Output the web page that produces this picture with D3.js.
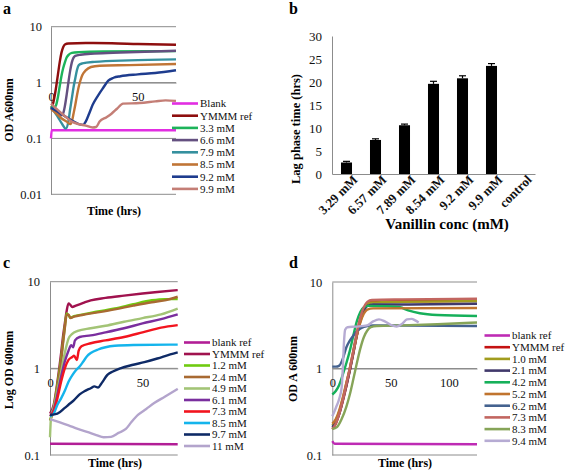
<!DOCTYPE html>
<html><head><meta charset="utf-8">
<script src="https://cdn.jsdelivr.net/npm/d3@7"></script>
<style>
html,body{margin:0;padding:0;background:#fff;}
svg{display:block;}
svg text{font-family:'Liberation Serif','Times New Roman','DejaVu Serif',serif;}
</style></head>
<body>
<svg id="chart" width="566" height="471"></svg>
<script>
// ---------- Panel a data (time hrs, OD) ----------
const aNames = ["Blank","YMMM ref","3.3 mM","6.6 mM","7.9 mM","8.5 mM","9.2 mM","9.9 mM"];
const aColors = ["#E22EE2","#8E0E0E","#1DB35A","#645080","#35909E","#C07536","#1E3C8E","#C47E76"];
const aBlank = [[0,0.1],[0.4,0.14],[72,0.14]];
const aYmmm = [[0,0.35],[1,0.4],[2,0.55],[3,0.85],[4,1.4],[5,2.3],[6,3.4],[7,4.3],[8,4.8],[10,5.0],[20,5.1],[35,5.05],[50,4.9],[72,4.75]];
const a33 = [[0,0.38],[2,0.36],[3,0.4],[4,0.55],[5,0.85],[6,1.3],[7,1.8],[8,2.3],[9,2.8],[10,3.1],[12,3.4],[16,3.5],[30,3.6],[72,3.65]];
const a66 = [[0,0.35],[2,0.32],[4,0.28],[6,0.26],[7,0.28],[8,0.38],[9,0.6],[10,1.0],[11,1.6],[12,2.3],[13,2.8],[14,3.0],[17,3.15],[25,3.3],[40,3.45],[72,3.7]];
const a79 = [[0,0.36],[2,0.3],[4,0.24],[6,0.19],[8.5,0.15],[10,0.2],[11,0.33],[12,0.52],[13,0.83],[14,1.2],[15,1.7],[16,2.05],[18,2.2],[25,2.35],[45,2.5],[72,2.6]];
const a85 = [[0,0.34],[3,0.28],[6,0.23],[9,0.2],[11,0.18],[12,0.2],[13,0.28],[14,0.4],[15,0.6],[16,0.85],[17,1.1],[18,1.35],[20,1.65],[23,1.9],[28,2.0],[45,2.05],[72,2.15]];
const a92 = [[0,0.35],[4,0.3],[8,0.25],[12,0.21],[16,0.18],[18.5,0.175],[20,0.2],[22,0.28],[24,0.4],[27,0.58],[30,0.8],[33,1.08],[36,1.22],[40,1.3],[50,1.4],[60,1.48],[72,1.66]];
const a99 = [[0,0.42],[4,0.32],[8,0.25],[12,0.2],[16,0.18],[20,0.17],[24,0.157],[26,0.16],[28,0.2],[32,0.24],[35,0.28],[38,0.34],[41.5,0.42],[51,0.43],[60,0.46],[66,0.48],[72,0.47]];
const aSeries = [aBlank,aYmmm,a33,a66,a79,a85,a92,a99];
const aYTicks = [0.01,0.1,1,10];
const aXTicks = [0,50];

// ---------- Panel b data ----------
const bCategories = ["3.29 mM","6.57 mM","7.89 mM","8.54 mM","9.2 mM","9.9 mM","control"];
const bLag = [2.5,7.4,10.6,19.6,20.8,23.5,0];
const bErr = [0.25,0.25,0.25,0.55,0.55,0.5,0];
const bYTicks = [0,5,10,15,20,25,30];

// ---------- Panel c data ----------
const cNames = ["blank ref","YMMM ref","1.2 mM","2.4 mM","4.9 mM","6.1 mM","7.3 mM","8.5 mM","9.7 mM","11 mM"];
const cColors = ["#B21E96","#A0124E","#6FCB10","#A86A32","#A3C476","#7A2E9E","#F2141E","#14B4EC","#0E2A66","#B3A4CC"];
const cBlank = [[0,0.135],[69,0.133]];
const cYmmm = [[0,0.3],[2,0.38],[4,0.7],[6,1.5],[7,2.3],[8,3.3],[9,4.6],[10,5.6],[11,5.4],[12,5.1],[14,5.3],[18,5.7],[22,6.1],[30,6.5],[40,6.9],[50,7.3],[58,7.6],[69,8.0]];
const c12 = [[0,0.25],[2,0.35],[4,0.65],[6,1.3],[7,2.0],[8,3.0],[9,4.3],[10,4.1],[11,3.85],[13,4.0],[18,4.2],[25,4.5],[35,4.9],[45,5.5],[55,6.1],[62,6.3],[69,6.3]];
const c24 = [[0,0.25],[2,0.33],[4,0.6],[6,1.2],[7,1.9],[8,2.9],[9,4.1],[10,4.2],[11,3.8],[13,3.95],[18,4.15],[25,4.4],[35,4.8],[45,5.3],[55,5.8],[62,6.1],[69,6.7]];
const c49 = [[0,0.16],[0.6,0.28],[2,0.35],[4,0.55],[6,0.9],[8,1.5],[10,2.2],[12,2.5],[15,2.7],[22,2.9],[30,3.1],[40,3.45],[50,3.8],[60,4.2],[69,4.9]];
const c61 = [[0,0.28],[2,0.33],[4,0.5],[6,0.8],[8,1.2],[10,1.6],[11.5,1.85],[12.5,1.75],[13.5,2.1],[16,2.3],[22,2.4],[30,2.6],[40,2.9],[50,3.3],[60,3.7],[69,4.2]];
const c73 = [[0,0.28],[2,0.32],[4,0.45],[6,0.7],[8,1.0],[10,1.25],[12,1.35],[13,1.4],[14.5,1.25],[15.5,1.6],[17,1.8],[22,1.95],[30,2.1],[40,2.3],[50,2.6],[60,2.95],[69,3.15]];
const c85 = [[0,0.28],[2,0.3],[4,0.38],[6,0.45],[8,0.55],[10,0.7],[12,0.83],[14,0.95],[16,1.05],[18,1.2],[20,1.38],[22,1.5],[26,1.65],[30,1.75],[35,1.82],[45,1.86],[69,1.88]];
const c97 = [[0,0.29],[4,0.3],[8,0.35],[10,0.38],[13,0.43],[16,0.5],[19,0.55],[22,0.59],[24,0.62],[26,0.6],[28,0.68],[31,0.84],[34,0.92],[38,1.0],[45,1.1],[51,1.18],[58,1.3],[65,1.45],[69,1.53]];
const c110 = [[0,0.26],[5,0.24],[10,0.22],[15,0.2],[20,0.185],[25,0.17],[29,0.16],[33,0.162],[37,0.18],[41,0.2],[44,0.24],[47.5,0.29],[52,0.34],[56.5,0.4],[62,0.47],[69,0.58]];
const cSeries = [cBlank,cYmmm,c12,c24,c49,c61,c73,c85,c97,c110];
const cYTicks = [0.1,1,10];
const cXTicks = [0,50];

// ---------- Panel d data ----------
const dNames = ["blank ref","YMMM ref","1.0 mM","2.1 mM","4.2 mM","5.2 mM","6.2 mM","7.3 mM","8.3 mM","9.4 mM"];
const dColors = ["#BE2BB4","#C41212","#A19C1E","#41396B","#16B05A","#C0742E","#44628F","#C26660","#86A458","#B6ABD3"];
const dBlank = [[0,0.145],[2,0.135],[124,0.133]];
const dYmmm = [[0,0.2],[3,0.23],[6,0.3],[9,0.42],[12,0.62],[15,0.95],[18,1.5],[21,2.4],[24,3.6],[27,4.9],[30,5.7],[33,5.9],[50,6.0],[80,6.0],[124,6.1]];
const d10 = [[0,0.22],[3,0.25],[6,0.32],[9,0.45],[12,0.67],[15,1.0],[18,1.6],[21,2.5],[24,3.7],[27,4.9],[30,5.6],[34,5.8],[60,5.9],[124,6.0]];
const d21 = [[0,0.21],[3,0.24],[6,0.3],[9,0.43],[12,0.63],[15,0.95],[18,1.5],[21,2.4],[24,3.5],[27,4.6],[30,5.3],[35,5.5],[60,5.5],[124,5.6]];
const d42 = [[0,0.5],[3,0.55],[6,0.65],[9,0.85],[12,1.15],[15,1.6],[18,2.4],[21,3.5],[24,4.5],[27,5.1],[31,5.3],[45,5.25],[58,5.1],[65,4.7],[75,4.35],[90,4.15],[124,4.05]];
const d52 = [[0,0.23],[3,0.26],[6,0.33],[9,0.46],[12,0.68],[15,1.0],[18,1.55],[21,2.4],[24,3.4],[27,4.3],[30,4.8],[35,4.95],[124,5.0]];
const d62 = [[0,1.05],[3,1.05],[6,1.08],[9,1.3],[12,1.75],[15,2.1],[18,2.4],[21,2.7],[25,2.95],[30,3.1],[35,3.15],[124,3.1]];
const d73 = [[0,0.2],[3,0.23],[6,0.3],[9,0.43],[12,0.65],[15,1.0],[18,1.6],[21,2.6],[24,3.9],[27,5.1],[30,5.9],[34,6.2],[60,6.3],[124,6.4]];
const d83 = [[0,0.2],[4,0.21],[8,0.26],[12,0.36],[15,0.5],[18,0.75],[21,1.15],[24,1.7],[27,2.3],[30,2.75],[33,3.0],[38,3.1],[60,3.15],[90,3.25],[124,3.4]];
const d94 = [[0,0.28],[3,0.35],[6,0.45],[8,0.6],[9,1.0],[10,2.0],[11,2.8],[13,3.0],[20,3.05],[30,3.15],[35,3.5],[40,3.7],[45,3.5],[50,3.2],[55,3.05],[60,3.3],[64,3.7],[68,3.75],[71,3.6],[74,3.4]];
const dSeries = [dBlank,dYmmm,d10,d21,d42,d52,d62,d73,d83,d94];
const dYTicks = [0.1,1,10];
const dXTicks = [0,50,100];

// ---------- drawing ----------
const FONT = "'Liberation Serif','Times New Roman','DejaVu Serif',serif";
const GRID = "#8c8c8c";
const svg = d3.select("#chart");

function logPanel(o){
  const g = svg.append("g");
  const x = d3.scaleLinear().domain(o.xDomain).range(o.xRange);
  const y = d3.scaleLog().domain(o.yDomain).range(o.yRange);
  g.selectAll("line.grid").data(o.yTicks).join("line")
    .attr("x1", o.xRange[0]).attr("x2", o.xRange[1])
    .attr("y1", d => y(d)).attr("y2", d => y(d))
    .attr("stroke", GRID).attr("stroke-width", 1);
  const ya = g.append("g").attr("transform", `translate(${o.xRange[0]},0)`)
    .call(d3.axisLeft(y).tickValues(o.yTicks).tickFormat(d => String(d)).tickSize(0).tickPadding(o.yPad));
  ya.select(".domain").attr("stroke", GRID);
  ya.selectAll("text").attr("font-size", o.tickSize).attr("fill", "#111");
  const xa = g.append("g").attr("transform", `translate(0,${y(1)})`)
    .call(d3.axisBottom(x).tickValues(o.xTicks).tickSize(0).tickPadding(o.xPad));
  xa.select(".domain").attr("stroke", GRID);
  xa.selectAll("text").attr("font-size", o.tickSize).attr("fill", "#111");
  const line = d3.line().x(d => x(d[0])).y(d => y(d[1])).curve(d3.curveMonotoneX);
  g.selectAll("path.series").data(o.series).join("path")
    .attr("d", line).attr("fill", "none")
    .attr("stroke", (d,i) => o.colors[i]).attr("stroke-width", 2.4)
    .attr("stroke-linejoin", "round");
  const lg = g.append("g");
  o.names.forEach((n,i) => {
    const yy = o.legY0 + i*o.legDy;
    lg.append("line").attr("x1", o.legX1).attr("x2", o.legX2).attr("y1", yy).attr("y2", yy)
      .attr("stroke", o.colors[i]).attr("stroke-width", 2.6);
    lg.append("text").attr("x", o.legX2 + 2).attr("y", yy).attr("dy", "0.35em")
      .attr("font-size", 11).attr("fill", "#111").text(n);
  });
  g.append("text").attr("transform", `translate(${o.yTitleX},${o.yTitleY}) rotate(-90)`)
    .attr("text-anchor", "middle").attr("font-weight", "bold").attr("font-size", 12).text(o.yTitle);
  g.append("text").attr("x", o.xTitleX).attr("y", o.xTitleY)
    .attr("text-anchor", "middle").attr("font-weight", "bold").attr("font-size", 12).text("Time (hrs)");
  g.append("text").attr("x", o.labX).attr("y", o.labY)
    .attr("font-weight", "bold").attr("font-size", 16).text(o.label);
}

logPanel({
  label:"a", labX:3, labY:14,
  xDomain:[0,72], xRange:[51,176], yDomain:[0.01,10], yRange:[194.3,26.7],
  yTicks:aYTicks, xTicks:aXTicks, tickSize:12.5, yPad:9, xPad:10,
  series:aSeries, colors:aColors, names:aNames,
  legX1:172, legX2:198, legY0:103.5, legDy:12.2,
  yTitle:"OD A600nm", yTitleX:12.5, yTitleY:110, xTitleX:114, xTitleY:215
});
logPanel({
  label:"c", labX:3, labY:268,
  xDomain:[0,69], xRange:[50,177.7], yDomain:[0.1,10], yRange:[455,281.7],
  yTicks:cYTicks, xTicks:cXTicks, tickSize:12.5, yPad:10, xPad:10,
  series:cSeries, colors:cColors, names:cNames,
  legX1:184, legX2:210, legY0:342.5, legDy:11.5,
  yTitle:"Log OD 600nm", yTitleX:12.5, yTitleY:370, xTitleX:115, xTitleY:467
});
logPanel({
  label:"d", labX:289, labY:268,
  xDomain:[0,124], xRange:[332.3,477], yDomain:[0.1,10], yRange:[455,282],
  yTicks:dYTicks, xTicks:dXTicks, tickSize:12.5, yPad:10, xPad:10,
  series:dSeries, colors:dColors, names:dNames,
  legX1:484.5, legX2:510, legY0:335.5, legDy:11.7,
  yTitle:"OD A 600nm", yTitleX:297, yTitleY:369, xTitleX:405, xTitleY:467
});

// ---------- Panel b ----------
(function(){
  const g = svg.append("g");
  const x = d3.scaleBand().domain(bCategories).range([332,535]).paddingInner(0.62).paddingOuter(0.31);
  const y = d3.scaleLinear().domain([0,30]).range([174,36]);
  const ya = g.append("g").attr("transform","translate(332,0)")
    .call(d3.axisLeft(y).tickValues(bYTicks).tickSize(0).tickPadding(10));
  ya.select(".domain").attr("stroke", GRID);
  ya.selectAll("text").attr("font-size", 13).attr("fill","#111");
  const xa = g.append("g").attr("transform","translate(0,174)")
    .call(d3.axisBottom(x).tickSize(0).tickPadding(6));
  xa.select(".domain").attr("stroke", GRID);
  xa.selectAll("text").attr("font-size", 13).attr("font-weight","bold").attr("fill","#111")
    .style("text-anchor","end")
    .attr("dx","0.3em").attr("dy","0.55em").attr("transform","rotate(-45)");
  g.selectAll("rect.bar").data(bCategories).join("rect")
    .attr("x", d => x(d)).attr("width", x.bandwidth())
    .attr("y", (d,i) => y(bLag[i])).attr("height", (d,i) => y(0) - y(bLag[i]))
    .attr("fill","#000");
  const idx = bCategories.map((d,i)=>i).filter(i=>bErr[i]>0);
  const eb = g.selectAll("g.err").data(idx).join("g");
  const cx = i => x(bCategories[i]) + x.bandwidth()/2;
  eb.append("line").attr("x1", cx).attr("x2", cx)
    .attr("y1", i => y(bLag[i] + bErr[i])).attr("y2", i => y(bLag[i]))
    .attr("stroke","#000").attr("stroke-width",1.2);
  eb.append("line").attr("x1", i => cx(i)-3.5).attr("x2", i => cx(i)+3.5)
    .attr("y1", i => y(bLag[i] + bErr[i])).attr("y2", i => y(bLag[i] + bErr[i]))
    .attr("stroke","#000").attr("stroke-width",1.2);
  g.append("text").attr("transform","translate(300,129) rotate(-90)")
    .attr("text-anchor","middle").attr("font-weight","bold").attr("font-size",12.5).text("Lag phase time (hrs)");
  g.append("text").attr("x",447).attr("y",229).attr("text-anchor","middle")
    .attr("font-weight","bold").attr("font-size",15).text("Vanillin conc (mM)");
  g.append("text").attr("x",289).attr("y",14).attr("font-weight","bold").attr("font-size",16).text("b");
})();

svg.selectAll("text").attr("font-family", FONT);
</script>
</body></html>
